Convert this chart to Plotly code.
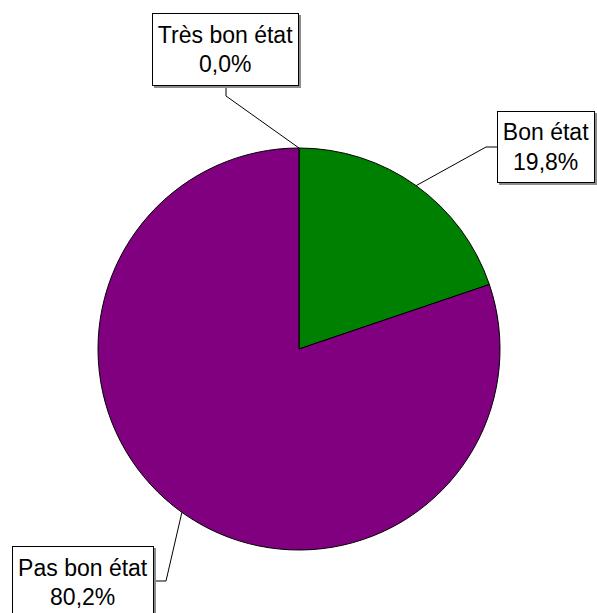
import math
import plotly.graph_objects as go

categories = ["Très bon état", "Bon état", "Pas bon état"]
values = [0.0, 19.8, 80.2]
value_labels = ["0,0%", "19,8%", "80,2%"]
colors = ["#00AEEF", "#008000", "#800080"]

W, H = 597, 613
CX, CY, R = 299, 349, 201

def px(x):
    return x / W

def py(y):
    return 1 - y / H

fig = go.Figure(go.Pie(
    labels=categories,
    values=values,
    sort=False,
    direction="clockwise",
    rotation=0,
    textinfo="none",
    hoverinfo="label+percent",
    marker=dict(colors=colors, line=dict(color="black", width=1)),
    domain=dict(x=[px(CX - R), px(CX + R)], y=[py(CY + R), py(CY - R)]),
    showlegend=False,
))

# label boxes: (left, top, width, height) and leader bend points
boxes = [
    ((152, 13, 147, 73), [(226, 86), (226, 96)]),
    ((497, 111, 98, 72), [(497, 147), (486, 147)]),
    ((12, 546, 142, 73), [(154, 581), (166, 581)]),
]

total = sum(values)
cum = 0.0
annotations = []
shapes = []
for cat, v, lab, ((bl, bt, bw, bh), bend) in zip(categories, values, value_labels, boxes):
    mid = (cum + v / 2) / total * 2 * math.pi
    cum += v
    ex = CX + R * math.sin(mid)
    ey = CY - R * math.cos(mid)
    pts = bend + [(ex, ey)]
    path = "M " + " L ".join(f"{px(x)},{py(y)}" for x, y in pts)
    shapes.append(dict(type="path", xref="paper", yref="paper", path=path,
                       line=dict(color="black", width=1)))
    # box shadow
    shapes.append(dict(type="rect", xref="paper", yref="paper",
                       x0=px(bl + 2), x1=px(bl + bw + 2), y0=py(bt + 2), y1=py(bt + bh + 2),
                       fillcolor="#8c8c8c", line=dict(width=0)))
    annotations.append(dict(
        text=f"{cat}<br>{lab}", x=px(bl), y=py(bt), xref="paper", yref="paper",
        xanchor="left", yanchor="top", showarrow=False, align="center", valign="middle",
        width=bw - 10, height=bh - 10,
        font=dict(family="Liberation Sans, Arial", size=23, color="black"),
        bgcolor="white", bordercolor="black", borderwidth=1, borderpad=4,
    ))

fig.update_layout(
    width=W, height=H,
    margin=dict(l=0, r=0, t=0, b=0),
    paper_bgcolor="white", plot_bgcolor="white",
    annotations=annotations, shapes=shapes,
)
fig.write_html("out.html", config={"displayModeBar": False},
               post_script="document.body.style.margin='0';document.body.style.overflow='hidden';")
